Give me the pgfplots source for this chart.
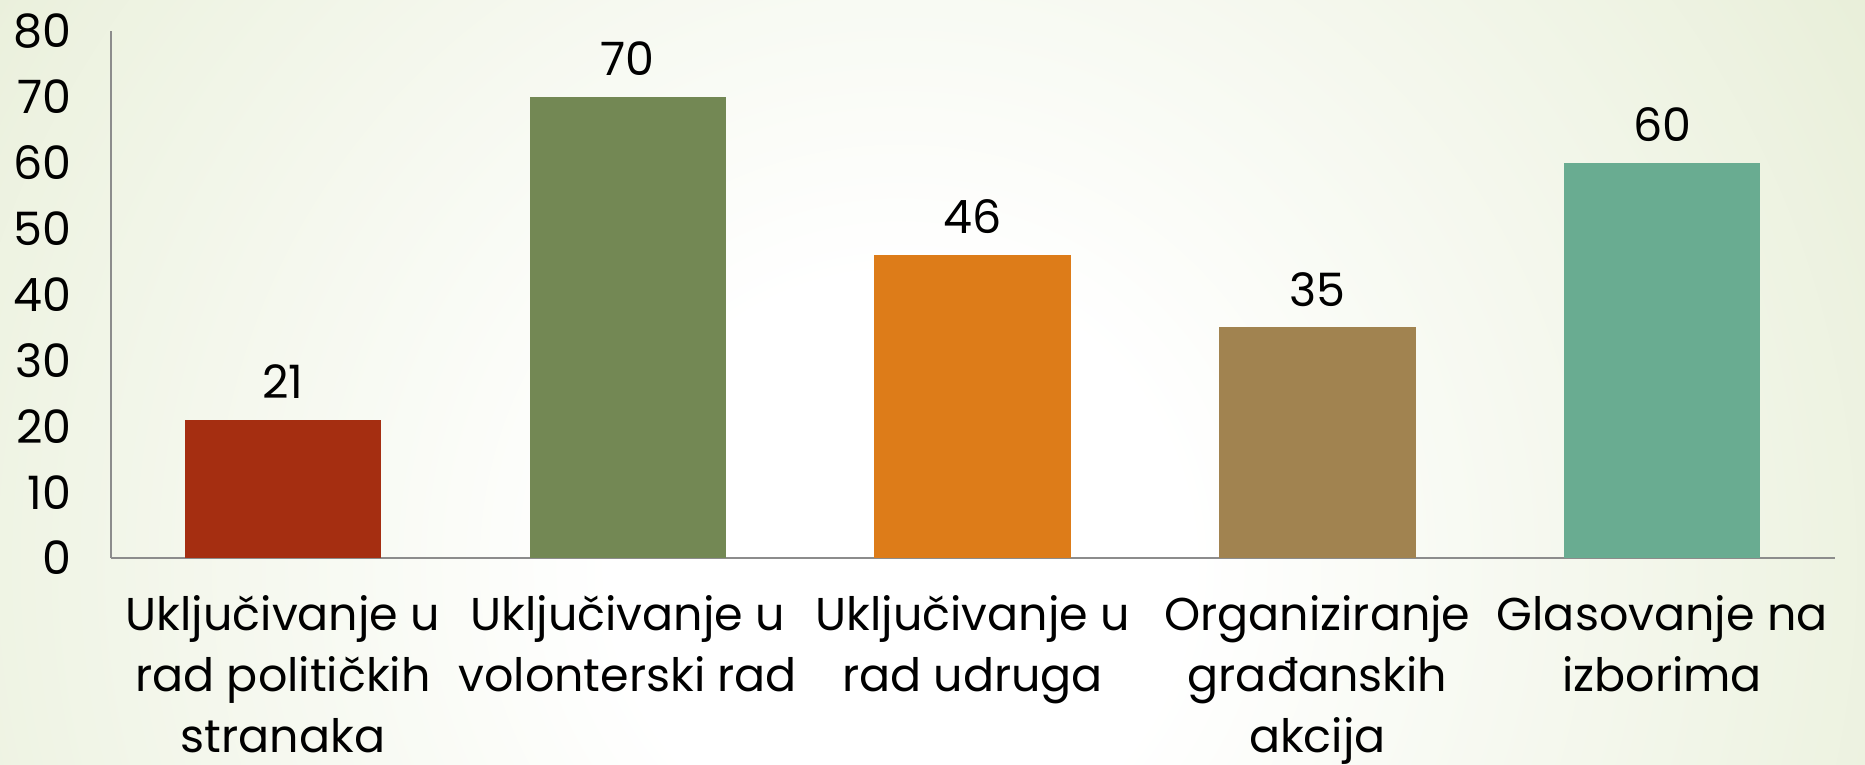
\documentclass[border=0pt]{standalone}
\usepackage{pgfplots}
\pgfplotsset{compat=1.18}
\usepackage{fontspec}
\setmainfont{Poppins}
\definecolor{bgouter}{HTML}{DCE6C4}
\definecolor{cRed}{HTML}{A52E11}
\definecolor{cGreen}{HTML}{738854}
\definecolor{cOrange}{HTML}{DD7C19}
\definecolor{cBrown}{HTML}{A18350}
\definecolor{cTeal}{HTML}{69AC91}
\definecolor{axgray}{HTML}{8C8C8C}
\pgfdeclareradialshading{bgshade}{\pgfpoint{0pt}{0pt}}{%
  color(0pt)=(white); color(6pt)=(white); color(20pt)=(bgouter!50!white); color(32pt)=(bgouter); color(50pt)=(bgouter)}
\begin{document}
\begin{tikzpicture}
\begin{scope}
\clip (0,0) rectangle (932.5pt,382.5pt);
\shade[shading=bgshade] (-150pt,-500pt) rectangle (1050pt,700pt);
\end{scope}
\begin{axis}[
  at={(55.3pt,103.5pt)}, anchor=south west,
  scale only axis,
  width=862pt, height=263.5pt,
  xmin=-0.5, xmax=4.5, ymin=0, ymax=80,
  ytick={0,10,...,80},
  xtick={0,1,2,3,4},
  xticklabels={Uključivanje u\\rad političkih\\stranaka, Uključivanje u\\volonterski rad, Uključivanje u\\rad udruga, Organiziranje\\građanskih\\akcija, Glasovanje na\\izborima},
  xticklabel style={align=center, font=\fontsize{23}{30.5}\selectfont, yshift=-15pt, anchor=north},
  yticklabel style={font=\fontsize{23}{25}\selectfont, anchor=east, xshift=-16pt},
  /pgf/number format/assume math mode=true,
  major tick length=0pt,
  axis x line*=bottom, axis y line*=left,
  axis line style={draw=axgray, line width=1pt, -},
  clip=false,
  ybar=0pt, bar width=0.57,
  bar shift=0pt,
  nodes near coords,
  every node near coord/.append style={font=\fontsize{23}{25}\selectfont, text=black, yshift=7pt},
]
\addplot[fill=cRed, draw=none] coordinates {(0,21)};
\addplot[fill=cGreen, draw=none] coordinates {(1,70)};
\addplot[fill=cOrange, draw=none] coordinates {(2,46)};
\addplot[fill=cBrown, draw=none] coordinates {(3,35)};
\addplot[fill=cTeal, draw=none] coordinates {(4,60)};
\end{axis}
\pgfresetboundingbox
\useasboundingbox (0,0) rectangle (932.5pt,382.5pt);
\end{tikzpicture}
\end{document}
